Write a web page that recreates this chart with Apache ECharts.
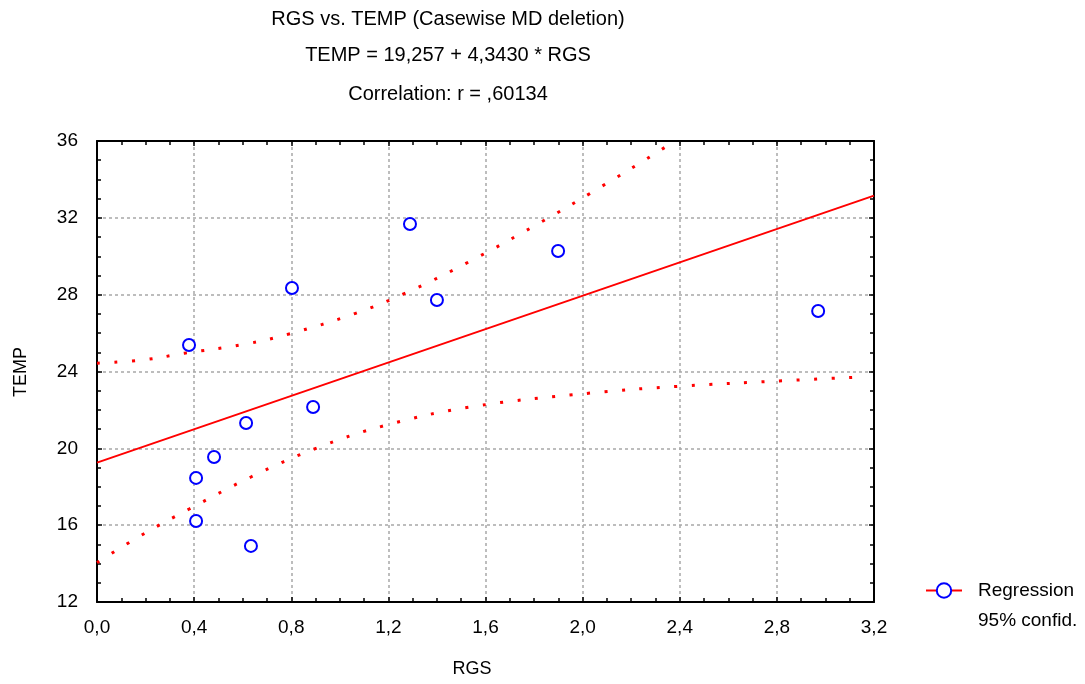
<!DOCTYPE html>
<html>
<head>
<meta charset="utf-8">
<title>RGS vs. TEMP</title>
<script src="https://cdn.jsdelivr.net/npm/echarts@6/dist/echarts.min.js"></script>
<style>
  html, body { margin: 0; padding: 0; background: #fff; }
  #chart-container { width: 1085px; height: 684px; }
</style>
</head>
<body>
<div id="chart-container"></div>
<script>
let points = [
    [0.379, 25.38], [0.408, 18.46], [0.408, 16.22], [0.482, 19.55],
    [0.614, 21.32], [0.634, 14.92], [0.803, 28.35], [0.890, 22.15],
    [1.289, 31.68], [1.400, 27.72], [1.899, 30.27], [2.970, 27.15],
];
// regression line end points
let regression = [[0, 19.257], [3.2, 33.155]];
// 95% confidence band
let upperBand = [
    [0.0, 24.43], [0.2, 24.62], [0.36, 24.95], [0.6, 25.4], [0.79, 25.95],
    [1.065, 27.03], [1.268, 28.07], [1.529, 29.69], [1.846, 31.9],
    [2.033, 33.29], [2.343, 35.7], [2.37, 36.0],
];
let lowerBand = [
    [0.0, 14.05], [0.19, 15.53], [0.38, 16.84], [0.636, 18.52], [0.902, 20.0],
    [1.178, 21.16], [1.531, 22.14], [2.033, 22.88], [2.397, 23.23],
    [2.829, 23.52], [3.12, 23.70],
];
let xTickLabels = ["0,0", "0,4", "0,8", "1,2", "1,6", "2,0", "2,4", "2,8", "3,2"];
let yTickLabels = ["12", "16", "20", "24", "28", "32", "36"];

let font = "'Liberation Sans', Arial, sans-serif";
let dom = document.getElementById("chart-container");
let myChart = echarts.init(dom, null, { renderer: "canvas" });

let tickStyle = { show: true, inside: true, length: 5, lineStyle: { color: "#000", width: 1.5 } };
let minorStyle = { show: true, splitNumber: 4, length: 4, lineStyle: { color: "#000", width: 1.5 } };
let frameLine = { show: true, onZero: false, lineStyle: { color: "#000", width: 2 } };
let gridLine = { show: true, lineStyle: { color: "#a8a8a8", width: 1.5, type: [3, 3] } };
let dotted = { color: "#ff0000", width: 3, type: [3, 14.5], cap: "butt" };

let xBase = { type: "value", min: 0, max: 3.2, interval: 0.4, axisLine: frameLine, axisTick: tickStyle, minorTick: minorStyle };
let yBase = { type: "value", min: 12, max: 36, interval: 4, axisLine: frameLine, axisTick: tickStyle, minorTick: minorStyle };

let option = {
    backgroundColor: "#fff",
    animation: false,
    textStyle: { fontFamily: font },
    title: [
        { text: "RGS vs. TEMP (Casewise MD deletion)", top: 9 },
        { text: "TEMP = 19,257 + 4,3430 * RGS", top: 45 },
        { text: "Correlation: r = ,60134", top: 84 },
    ].map(function (t) {
        return {
            text: t.text, left: 448, top: t.top, textAlign: "center", padding: 0,
            textStyle: { fontFamily: font, fontSize: 20, fontWeight: "normal", color: "#000" },
        };
    }),
    grid: { left: 97, top: 141, right: 211, bottom: 82, containLabel: false },
    xAxis: [
        Object.assign({}, xBase, {
            position: "bottom",
            splitLine: gridLine,
            axisLabel: {
                margin: 16, fontSize: 19, color: "#000", fontFamily: font,
                formatter: function (v) { return xTickLabels[Math.round(v / 0.4)]; },
            },
        }),
        Object.assign({}, xBase, { position: "top", splitLine: { show: false }, axisLabel: { show: false } }),
    ],
    yAxis: [
        Object.assign({}, yBase, {
            position: "left",
            splitLine: gridLine,
            axisLabel: {
                margin: 19, fontSize: 19, color: "#000", fontFamily: font,
                formatter: function (v) { return yTickLabels[Math.round((v - 12) / 4)]; },
            },
        }),
        Object.assign({}, yBase, { position: "right", splitLine: { show: false }, axisLabel: { show: false } }),
    ],
    legend: {
        orient: "vertical",
        left: 920,
        top: 576,
        itemWidth: 36,
        itemHeight: 18,
        itemGap: 11,
        selectedMode: false,
        textStyle: { fontSize: 19, color: "#000", fontFamily: font, padding: [0, 0, 0, 11] },
        data: [
            {
                name: "Regression",
                itemStyle: { color: "#0000ff", borderColor: "#0000ff", opacity: 1 },
                lineStyle: { color: "#ff0000", width: 2 },
            },
            {
                name: "95% confid.",
                itemStyle: { opacity: 0 },
                lineStyle: { opacity: 0 },
            },
        ],
    },
    graphic: [
        {
            type: "text", x: 21, y: 372, rotation: Math.PI / 2,
            style: { text: "TEMP", fontSize: 18, fontFamily: font, fill: "#000", align: "center", verticalAlign: "middle" },
        },
        {
            type: "text", x: 472, y: 669,
            style: { text: "RGS", fontSize: 18, fontFamily: font, fill: "#000", align: "center", verticalAlign: "middle" },
        },
    ],
    series: [
        {
            name: "95% confid.",
            type: "line",
            data: upperBand,
            smooth: 0.4,
            symbol: "none",
            clip: true,
            lineStyle: dotted,
            z: 3,
        },
        {
            name: "95% confid.",
            type: "line",
            data: lowerBand,
            smooth: 0.4,
            symbol: "none",
            clip: true,
            lineStyle: dotted,
            z: 3,
        },
        {
            name: "Regression",
            type: "line",
            data: regression,
            showSymbol: false,
            symbol: "emptyCircle",
            symbolSize: 12,
            itemStyle: { color: "#0000ff" },
            lineStyle: { color: "#ff0000", width: 2 },
            z: 4,
        },
        {
            name: "Data",
            type: "scatter",
            data: points,
            symbol: "emptyCircle",
            symbolSize: 12,
            itemStyle: { color: "#0000ff", borderColor: "#0000ff", borderWidth: 2.5, opacity: 1 },
            z: 5,
        },
    ],
};

myChart.setOption(option);
window.addEventListener("resize", myChart.resize);
</script>
</body>
</html>
